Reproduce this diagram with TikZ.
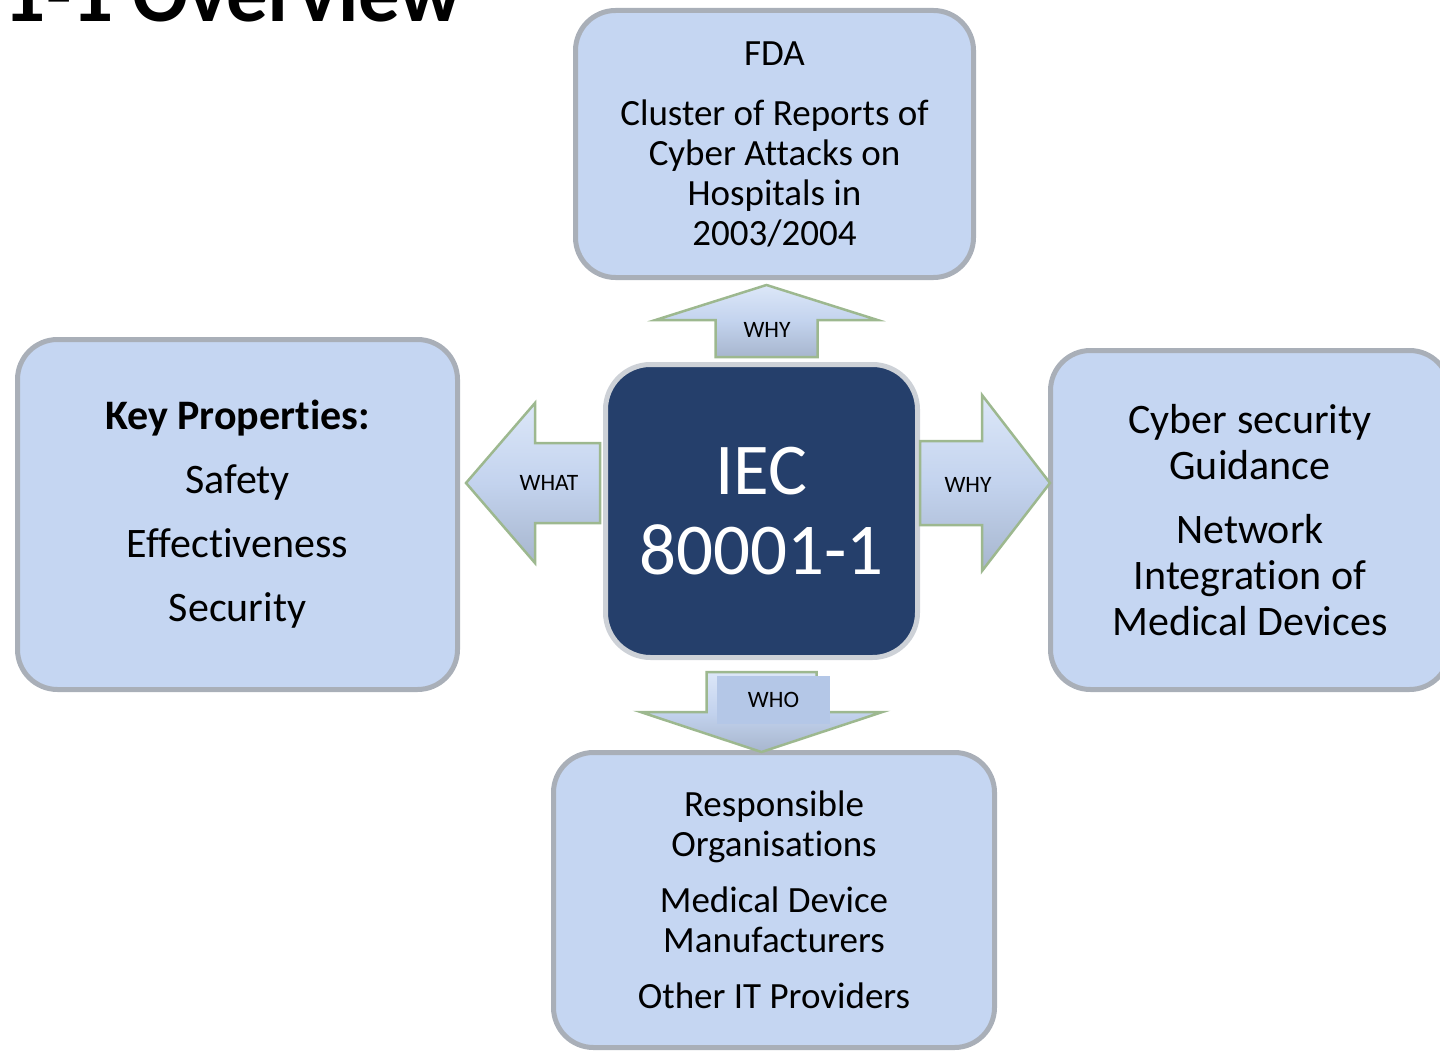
\documentclass[tikz,border=0pt]{standalone}
\usepackage{fontspec}
\setmainfont[Ligatures=NoCommon]{Carlito}
\usetikzlibrary{positioning, calc}
\definecolor{boxblue}{HTML}{C5D6F2}
\definecolor{boxrim}{HTML}{A9AFB8}
\definecolor{navy}{HTML}{253F6B}
\definecolor{navyrim}{HTML}{CDD1D7}
\definecolor{arrowblue}{HTML}{C3D3EE}
\definecolor{arrowlight}{HTML}{DCE7F8}
\definecolor{arrowdark}{HTML}{A7B6CE}
\definecolor{arrowrim}{HTML}{9DB88F}
\definecolor{labelblue}{HTML}{B4C7E7}

\begin{document}
\begin{tikzpicture}[x=1pt, y=-1pt,
  outerbox/.style={draw=boxrim, line width=5pt, fill=boxblue, rounded corners=40pt, align=center, inner sep=0pt},
  corebox/.style={draw=navyrim, line width=5pt, fill=navy, rounded corners=45pt, align=center, inner sep=0pt, text=white},
  blockarrow/.style={top color=arrowlight, bottom color=arrowdark, middle color=arrowblue, draw=arrowrim, line width=2.5pt, line join=miter},
  arrowlabel/.style={font=\fontsize{23.5}{26}\selectfont, inner sep=0pt}]
  \useasboundingbox (0,0) rectangle (1440,1051);

  % title, cut by the page edge
  \node[anchor=base east, inner sep=0pt, font=\bfseries\fontsize{83}{90}\selectfont] (title) at (462,22) {1-1 Overview};

  % boxes
  \node[corebox, minimum width=312pt, minimum height=293pt, font=\fontsize{73}{80}\selectfont] (iec) at (761.5,511) {IEC\\80001-1};
  \node[outerbox, minimum width=398pt, minimum height=267pt, font=\fontsize{37}{40}\selectfont] (fda) at (774.5,144)
    {FDA\\[20pt]Cluster of Reports of\\Cyber Attacks on\\Hospitals in\\2003/2004};
  \node[outerbox, minimum width=440pt, minimum height=350pt, font=\fontsize{42}{64}\selectfont] (props) at (237.5,514.5)
    {\textbf{Key Properties:}\\Safety\\Effectiveness\\Security};
  \node[outerbox, minimum width=399pt, minimum height=339pt, font=\fontsize{42}{46}\selectfont] (guide) at (1250,520)
    {Cyber security\\Guidance\\[18pt]Network\\Integration of\\Medical Devices};
  \node[outerbox, minimum width=441pt, minimum height=295pt, font=\fontsize{37}{40}\selectfont] (orgs) at (774,900)
    {Responsible\\Organisations\\[16pt]Medical Device\\Manufacturers\\[16pt]Other IT Providers};

  % block arrows
  \draw[blockarrow] ($(iec.north)+(-46,-5)$) -- ++(0,-37) -- ++(-60,0) -- ++(111,-35) -- ++(111,35) -- ++(-60,0) -- ++(0,37) -- cycle;
  \draw[blockarrow] ($(iec.west)+(-3,-68)$) -- ++(-65,0) -- ++(0,-40) -- ++(-69,80) -- ++(69,80) -- ++(0,-40) -- ++(65,0) -- cycle;
  \draw[blockarrow] ($(iec.east)+(0,-70)$) -- ++(62,0) -- ++(0,-46) -- ++(68,88) -- ++(-68,88) -- ++(0,-46) -- ++(-62,0) -- cycle;
  \draw[blockarrow] ($(iec.south)+(-55,12)$) -- ++(0,40) -- ++(-66,0) -- ++(121,40) -- ++(121,-40) -- ++(-66,0) -- ++(0,-40) -- cycle;

  \node[arrowlabel] (whyup) at (767,330) {WHY};
  \node[arrowlabel] (what) at (549,483) {WHAT};
  \node[arrowlabel] (whyright) at (968,485) {WHY};
  \node[arrowlabel, fill=labelblue, minimum width=113pt, minimum height=48pt] (who) at (773.5,700) {WHO};
\end{tikzpicture}
\end{document}
